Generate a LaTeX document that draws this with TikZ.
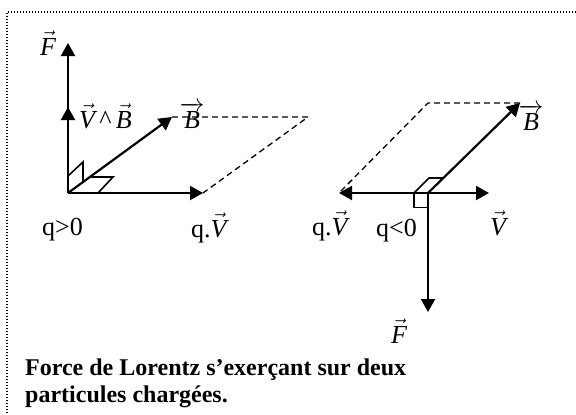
\documentclass[tikz,border=0pt]{standalone}
\usepackage{fontspec}
\setmainfont{Liberation Serif}
\usetikzlibrary{arrows.meta}
\newcommand\vlet[1]{\ensuremath{\vec{\hbox{\itshape #1}}}}
\newcommand\vlong[1]{\ensuremath{\overrightarrow{\hbox{\itshape #1}}}}
\tikzset{
  vecline/.style={line width=2.2pt, -{Triangle[length=13pt,width=14pt]}},
  guide/.style={line width=1.3pt, dash pattern=on 6pt off 4pt},
  marker/.style={line width=1.6pt},
  frame/.style={line width=1.4pt, dash pattern=on 1.4pt off 1.6pt},
  lbl/.style={inner sep=0pt, anchor=base, font=\fontsize{26}{30}\selectfont},
  captext/.style={inner sep=0pt, anchor=base west, align=left,
    font=\fontsize{24}{27}\selectfont\bfseries}
}
\begin{document}
\begin{tikzpicture}[x=1pt, y=-1pt]
\useasboundingbox (0,0) rectangle (576,415);
% frame
\coordinate (fr1) at (576,12);
\coordinate (fr2) at (7,12);
\coordinate (fr3) at (7,415);
\draw[frame] (fr1) -- (fr2) -- (fr3);

% ---------- left diagram (q>0) ----------
\coordinate (O1) at (68,193);
\coordinate (F1) at (68,43);
\coordinate (VB) at (68,107);
\coordinate (B1) at (172,117);
\coordinate (V1) at (203,193);
\coordinate (P1) at (308,117);
\draw[guide] (B1) -- (P1) -- (V1);
\draw[vecline] (O1) -- (F1);
\draw[vecline] (O1) -- (VB);
\draw[vecline] (O1) -- (B1);
\draw[vecline] (O1) -- (V1);
% right-angle markers
\coordinate (m1a) at (68,176);
\coordinate (m1b) at (83,162);
\coordinate (m1c) at (83,182);
\draw[marker] (m1a) -- (m1b) -- (m1c);
\coordinate (m2a) at (90,177);
\coordinate (m2b) at (113,177);
\coordinate (m2c) at (98,193);
\draw[marker] (m2a) -- (m2b) -- (m2c);

\node[lbl] (lF1) at (48,55) {\vlet{F}};
\node[lbl, anchor=base west] (lVB) at (79,128) {\vlet{V}\,\textasciicircum\,\vlet{B}};
\node[lbl] (lB1) at (192,128) {\vlong{B}};
\node[lbl, anchor=base west] (lq1) at (42,235) {q>0};
\node[lbl, anchor=base west] (lqV1) at (191,237) {q.\vlet{V}};

% ---------- right diagram (q<0) ----------
\coordinate (O2) at (428,193);
\coordinate (qV2) at (339,193);
\coordinate (V2) at (489,193);
\coordinate (B2) at (520,103);
\coordinate (F2) at (428,312);
\coordinate (P2) at (428,103);
\draw[guide] (B2) -- (P2) -- (qV2);
\draw[vecline] (O2) -- (qV2);
\draw[vecline] (O2) -- (V2);
\draw[vecline] (O2) -- (B2);
\draw[vecline] (O2) -- (F2);
% right-angle markers
\coordinate (m3a) at (414,193);
\coordinate (m3b) at (414,207.5);
\coordinate (m3c) at (428,207.5);
\draw[marker] (m3a) -- (m3b) -- (m3c);
\coordinate (m4b) at (429,178);
\coordinate (m4c) at (443,178);
\draw[marker] (m3a) -- (m4b) -- (m4c);

\node[lbl] (lB2) at (531,130) {\vlong{B}};
\node[lbl, anchor=base west] (lqV2) at (312,235) {q.\vlet{V}};
\node[lbl, anchor=base west] (lq2) at (376,236) {q<0};
\node[lbl] (lV2) at (498,235) {\vlet{V}};
\node[lbl] (lF2) at (399,343) {\vlet{F}};

% caption (anchor at baseline of last line)
\node[captext] (caption) at (25,402) {Force de Lorentz s’exerçant sur deux\\particules chargées.};
\end{tikzpicture}
\end{document}
